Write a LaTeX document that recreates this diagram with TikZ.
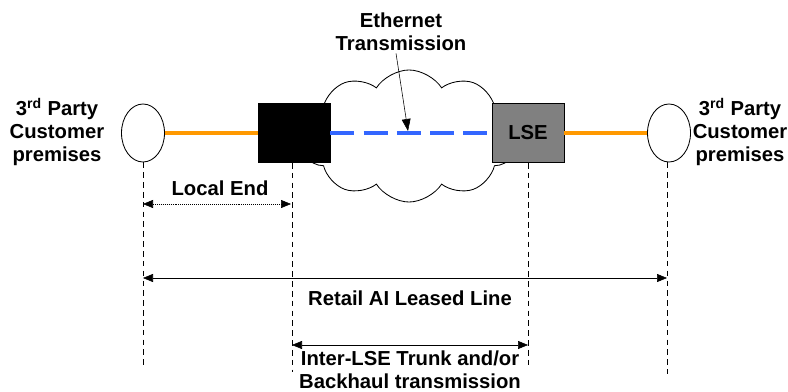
\documentclass[tikz,border=0pt]{standalone}
\usepackage{fontspec}
\setmainfont{Liberation Sans}
\definecolor{linkorange}{RGB}{255, 153, 0}
\definecolor{etherblue}{RGB}{51, 102, 255}
\definecolor{lsegray}{RGB}{128, 128, 128}
\usetikzlibrary{shapes.geometric, shapes.symbols, arrows.meta, positioning, calc}
\tikzset{
    labeltext/.style={align=center, font=\fontsize{14.4}{16.5}\selectfont\bfseries, inner sep=0pt},
    sitebox/.style={ellipse, draw, semithick, fill=white, minimum width=1.075cm, minimum height=1.45cm, inner sep=0pt},
    nodebox/.style={rectangle, draw, semithick, minimum width=1.8cm, minimum height=1.475cm, inner sep=0pt},
    cloudbox/.style={cloud, draw, semithick, fill=white, cloud puffs=10, cloud puff arc=115, cloud ignores aspect,
                     minimum width=5.45cm, minimum height=3.3cm},
    accessline/.style={line width=3.5pt, linkorange},
    etherline/.style={line width=2.2pt, etherblue, dash pattern=on 0.6cm off 0.23cm},
    guideline/.style={thin, dash pattern=on 4pt off 3pt},
    dimarrow/.style={{Triangle[length=2.5mm, width=2mm]}-{Triangle[length=2.5mm, width=2mm]}, thin},
    pointarrow/.style={-{Triangle[length=3mm, width=2.2mm]}, thin},
}
\begin{document}
\begin{tikzpicture}[x=0.025cm, y=-0.025cm]
    \useasboundingbox (0, 0) rectangle (788, 392);
    % cloud behind the boxes
    \node[cloudbox] (cloud) at (409, 136) {};
    % sites and boxes
    \node[sitebox] (lsite) at (143, 133) {};
    \node[sitebox] (rsite) at (669, 133) {};
    \node[nodebox, fill=black] (hub) at (294, 133) {};
    \node[nodebox, fill=lsegray, labeltext] (lse) at (528, 133) {LSE};
    % links
    \draw[accessline] (lsite.east) -- (hub.west);
    \draw[accessline] (lse.east) -- (rsite.west);
    \draw[etherline] (hub.east) -- (lse.west);
    % texts
    \node[labeltext] (ltext) at (57, 132) {3\textsuperscript{rd} Party\\Customer\\premises};
    \node[labeltext] (rtext) at (740, 132) {3\textsuperscript{rd} Party\\Customer\\premises};
    \node[labeltext] (ethtext) at (401, 32) {Ethernet\\Transmission};
    \coordinate (ethtip) at (408, 131);
    \draw[pointarrow] ($(ethtext.south)+(-5, 2)$) -- (ethtip);
    % guide lines
    \coordinate (g1) at (143, 366);
    \coordinate (g2) at (292, 372);
    \coordinate (g3) at (528, 367);
    \coordinate (g4) at (667, 374);
    \draw[guideline] (lsite.south) -- (g1);
    \draw[guideline] (hub.south -| g2) -- (g2);
    \draw[guideline] (lse.south) -- (g3);
    \draw[guideline] (rsite.south -| g4) -- (g4);
    % dimensions
    \draw[dimarrow, densely dotted] (143, 204) coordinate (le1) -- (291, 204) coordinate (le2);
    \node[labeltext] (letext) at (220, 188) {Local End};
    \draw[dimarrow] (143, 278) coordinate (rl1) -- (667, 278) coordinate (rl2);
    \node[labeltext] (rltext) at (410, 298) {Retail AI Leased Line};
    \draw[dimarrow] (292, 345) coordinate (tr1) -- (528, 345) coordinate (tr2);
    \node[labeltext] (trtext) at (410, 370) {Inter-LSE Trunk and/or\\Backhaul transmission};
\end{tikzpicture}
\end{document}
